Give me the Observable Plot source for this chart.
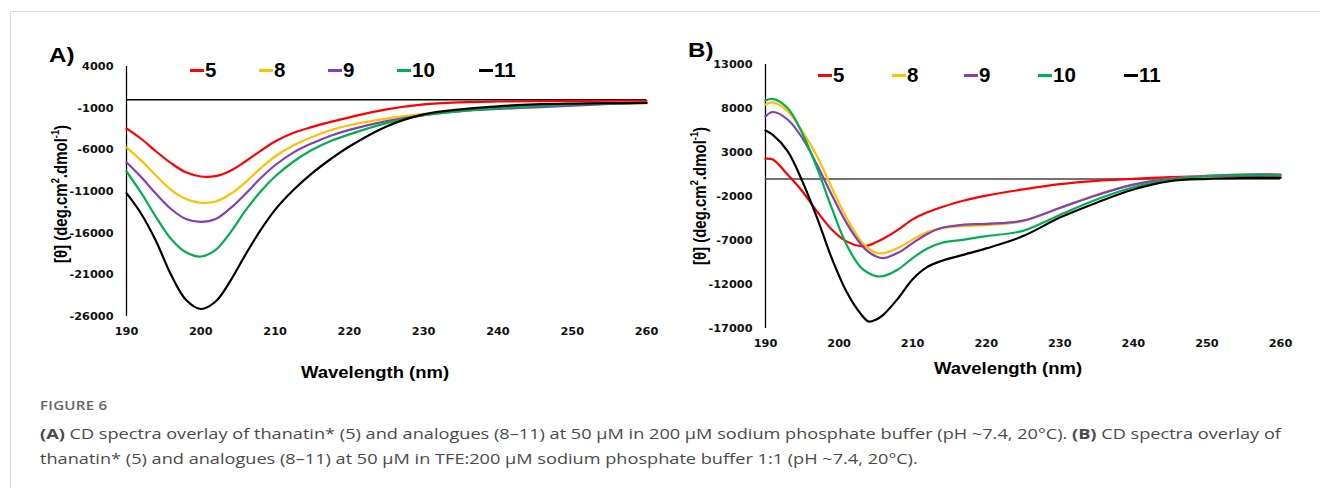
<!DOCTYPE html>
<html>
<head>
<meta charset="utf-8">
<script src="https://cdn.jsdelivr.net/npm/d3@7"></script>
<script src="https://cdn.jsdelivr.net/npm/@observablehq/plot@0.6"></script>
<style>
  body { margin:0; width:1320px; height:488px; position:relative; background:#fff; overflow:hidden; font-family:"Liberation Sans", Arial, sans-serif; }
  #frame { position:absolute; left:10px; top:11px; width:1400px; height:600px; border:1.5px solid #dcdcdc; }
  .abs { position:absolute; white-space:nowrap; }
  .panel { position:absolute; font-weight:bold; font-size:21px; color:#000; transform:scaleX(1.15); transform-origin:left center; }
  .xt { position:absolute; font-weight:bold; font-size:16.5px; transform:translate(-50%,-50%) scaleX(1.12); white-space:nowrap; }
  .yt { position:absolute; font-weight:bold; font-size:15px; transform:translate(-50%,-50%) scaleX(1.18) rotate(-90deg); white-space:nowrap; }
  .yt sup { font-size:0.62em; position:relative; top:-0.1em; }
  .leg { position:absolute; font-weight:bold; font-size:20.5px; line-height:24px; white-space:nowrap; color:#000; }
  .leg span.d { display:inline-block; width:14px; height:3px; vertical-align:middle; margin-right:1px; position:relative; top:-1px; }
  .cap { position:absolute; left:40px; font-family:"Open Sans", "Noto Sans", sans-serif; color:#4a4a4a; white-space:nowrap; transform:scaleX(1.21); transform-origin:left top; }
</style>
</head>
<body>
<div id="frame"></div>
<div id="plotA" class="abs" style="left:0;top:0"></div>
<div id="plotB" class="abs" style="left:660px;top:0"></div>
<div class="panel" style="left:49px;top:43px">A)</div>
<div class="panel" style="left:688px;top:38px">B)</div>
<div class="xt" style="left:375px;top:372px">Wavelength (nm)</div>
<div class="xt" style="left:1008px;top:368px">Wavelength (nm)</div>
<div class="yt" style="left:61px;top:194px">[θ] (deg.cm<sup>2</sup>.dmol<sup>-1</sup>)</div>
<div class="yt" style="left:700px;top:196px">[θ] (deg.cm<sup>2</sup>.dmol<sup>-1</sup>)</div>
<div id="legA"></div>
<div id="legB"></div>
<div class="cap" style="top:397px;font-size:12.5px;font-weight:600;color:#666;letter-spacing:0.2px">FIGURE 6</div>
<div class="cap" style="top:421px;font-size:15px;line-height:25px"><b style="font-weight:700">(A)</b> CD spectra overlay of thanatin* (5) and analogues (8–11) at 50 µM in 200 µM sodium phosphate buffer (pH ~7.4, 20°C). <b style="font-weight:700">(B)</b> CD spectra overlay of<br>thanatin* (5) and analogues (8–11) at 50 µM in TFE:200 µM sodium phosphate buffer 1:1 (pH ~7.4, 20°C).</div>

<script>
// ---------- Data ----------
const seriesNames = ["5", "8", "9", "10", "11"];
const seriesColors = ["#ff0000", "#ffc000", "#8040b8", "#00b050", "#000000"];

// Panel A: buffer
const wavelengthA = [190, 192, 194, 196, 198, 200, 202, 204, 206, 208, 210, 212.5, 215, 217.5, 220, 225, 230, 235, 240, 245, 250, 255, 260];
const a5  = [-3430, -4700, -6200, -7600, -8700, -9200, -9150, -8500, -7400, -6150, -5000, -3950, -3250, -2650, -2100, -1150, -550, -300, -200, -150, -130, -110, -100];
const a8  = [-5700, -7300, -9100, -10800, -11900, -12350, -12200, -11300, -9900, -8250, -6800, -5450, -4450, -3650, -3050, -2250, -1700, -1250, -900, -700, -550, -480, -430];
const a9  = [-7500, -9300, -11300, -13100, -14300, -14650, -14300, -13000, -11300, -9450, -7850, -6300, -5200, -4300, -3600, -2550, -1850, -1350, -1100, -900, -700, -500, -350];
const a10 = [-8600, -11200, -14100, -16700, -18300, -18800, -18000, -15900, -13300, -11050, -9200, -7400, -6000, -4950, -4150, -2800, -1850, -1350, -1000, -750, -550, -420, -350];
const a11 = [-11200, -13700, -17000, -21000, -24000, -25100, -24200, -21700, -18600, -15700, -13200, -10800, -8800, -7100, -5600, -3200, -1750, -1150, -780, -550, -450, -400, -370];

// Panel B: TFE:buffer 1:1
const wavelengthB = [190, 191, 193, 195, 197, 199, 201, 203, 204, 205, 206, 208, 210, 212, 214, 217, 220, 225, 230, 235, 240, 245, 250, 255, 260];
const b5  = [2300, 2200, 500, -1400, -3700, -5750, -7100, -7650, -7550, -7200, -6800, -5800, -4600, -3800, -3200, -2450, -1900, -1200, -600, -220, 0, 200, 300, 250, 200];
const b8  = [8450, 8700, 7700, 5400, 2600, -1000, -4400, -7100, -7900, -8400, -8450, -7850, -6900, -6050, -5600, -5350, -5250, -4800, -3300, -1800, -650, 0, 350, 500, 500];
const b9  = [7100, 7600, 6750, 4650, 1600, -1800, -5000, -7450, -8300, -8800, -9000, -8400, -7300, -6250, -5550, -5200, -5100, -4750, -3300, -1850, -650, 0, 350, 500, 500];
const b10 = [8900, 9100, 8050, 5200, 1250, -3300, -7450, -10100, -10700, -11050, -11050, -10300, -9000, -7900, -7250, -6900, -6500, -5900, -4100, -2350, -950, -100, 300, 400, 400];
const b11 = [5500, 5000, 3150, -250, -4400, -9000, -12800, -15400, -16200, -16000, -15450, -13600, -11400, -10000, -9300, -8600, -7900, -6500, -4400, -2700, -1200, -250, 0, 100, 100];

const xTicks = [190, 200, 210, 220, 230, 240, 250, 260];
const yTicksA = [4000, -1000, -6000, -11000, -16000, -21000, -26000];
const yTicksB = [13000, 8000, 3000, -2000, -7000, -12000, -17000];

// ---------- Build ----------
function tidy(wl, arrays) {
  const out = [];
  arrays.forEach((arr, i) => arr.forEach((v, j) => out.push({w: wl[j], v, s: seriesNames[i]})));
  return out;
}
const dataA = tidy(wavelengthA, [a5, a8, a9, a10, a11]);
const dataB = tidy(wavelengthB, [b5, b8, b9, b10, b11]);

const style = {fontFamily: "'DejaVu Sans', sans-serif", fontSize: "11.3px", fontWeight: "bold", color: "#111", background: "transparent", overflow: "visible"};

function makePlot(data, yTicks, margins, zeroColor) {
  return Plot.plot({
    width: 660, height: 390,
    ...margins,
    style,
    x: {domain: [190, 260], ticks: xTicks, tickSize: 0, tickPadding: 10, label: null},
    y: {domain: [yTicks[yTicks.length - 1], yTicks[0]], ticks: yTicks, tickSize: 0, tickPadding: 13, tickFormat: d => String(d), label: null},
    color: {domain: seriesNames, range: seriesColors},
    marks: [
      Plot.ruleX([190], {stroke: "#000", strokeWidth: 1.3}),
      Plot.ruleY([0], {stroke: zeroColor, strokeWidth: 1.5}),
      Plot.line(data, {x: "w", y: "v", stroke: "s", z: "s", curve: "catmull-rom", strokeWidth: 2.2})
    ]
  });
}

document.getElementById("plotA").appendChild(makePlot(dataA, yTicksA, {marginLeft: 126, marginRight: 14, marginTop: 66, marginBottom: 74}, "#000"));
document.getElementById("plotB").appendChild(makePlot(dataB, yTicksB, {marginLeft: 105, marginRight: 40, marginTop: 64, marginBottom: 62}, "#444"));

function legend(id, lefts, cy) {
  const host = document.getElementById(id);
  seriesNames.forEach((n, i) => {
    const d = document.createElement("div");
    d.className = "leg";
    d.style.left = lefts[i] + "px";
    d.style.top = (cy - 12) + "px";
    d.innerHTML = `<span class="d" style="background:${seriesColors[i]}"></span>${n}`;
    host.appendChild(d);
  });
}
legend("legA", [190, 259, 328, 397, 479], 70);
legend("legB", [818, 892, 964, 1038, 1124], 75);
</script>
</body>
</html>
